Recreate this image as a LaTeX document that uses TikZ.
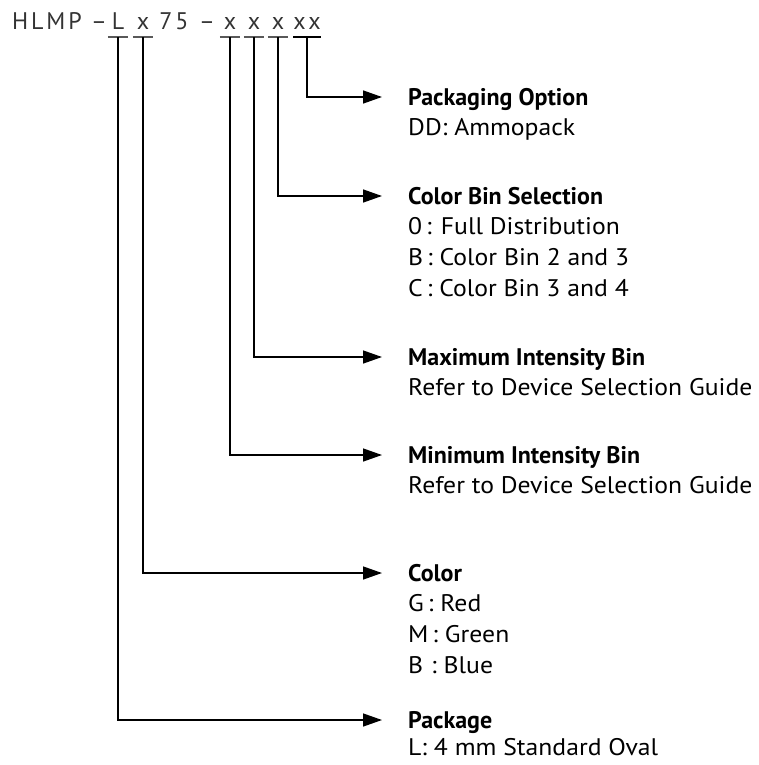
\documentclass[tikz,border=0pt]{standalone}
\usepackage{fontspec}
\setmainfont{PT Sans}
\newfontfamily\headfont{PT Sans Bold}
\newfontfamily\descfont[FakeStretch=1.07]{PT Sans}
\newfontfamily\titlefont[LetterSpace=12]{PT Sans}
\usepackage{tikz}
\usetikzlibrary{arrows.meta,positioning}

\begin{document}
\begin{tikzpicture}[x=1pt,y=-1pt,>={Triangle[length=19pt,width=13pt]}]
    \tikzset{code/.style={inner sep=0, anchor=base, minimum width=20pt, text depth=7pt, font=\titlefont\fontsize{24}{28}\selectfont, text=black!80},
    head/.style={inner sep=0, anchor=west, text height=16.6pt, text depth=0pt, font=\headfont\fontsize{24}{28}\selectfont},
    desc/.style={inner sep=0, anchor=north west, align=left, font=\descfont\fontsize{24}{31}\selectfont},
    uline/.style={line width=1.8pt, black!65},
    elbow/.style={to path={|- (\tikztotarget)}},
    }
    \useasboundingbox (0,0) rectangle (758,765);
    % part number
    \node [code, anchor=base west, minimum width=0pt] (hlmp) at (12,30) {HLMP –};
    \node [code] (cpkg) at (118,30) {L};
    \node [code] (ccol) at (143,30) {x};
    \node [code, minimum width=0pt] (cnum) at (174,30) {75};
    \node [code, minimum width=0pt] (cdash) at (207,30) {–};
    \node [code] (cmin) at (230,30) {x};
    \node [code] (cmax) at (254,30) {x};
    \node [code] (cbin) at (278,30) {x};
    \node [code, minimum width=25pt] (copt) at (307,30) {xx};
    % headings
    \node [head] (hopt) at (408,97) {Packaging Option};
    \node [head] (hbin) at (408,196) {Color Bin Selection};
    \node [head] (hmax) at (408,357) {Maximum Intensity Bin};
    \node [head] (hmin) at (408,455) {Minimum Intensity Bin};
    \node [head] (hcol) at (408,573) {Color};
    \node [head] (hpkg) at (408,720) {Package};
    % descriptions
    \node [desc, below=13pt of hopt.south west, anchor=north west] (dopt) {DD: Ammopack};
    \node [desc, below=13pt of hbin.south west, anchor=north west] (dbin) {0\,: Full Distribution\\B\,: Color Bin 2 and 3\\C\,: Color Bin 3 and 4};
    \node [desc, below=13pt of hmax.south west, anchor=north west] (dmax) {Refer to Device Selection Guide};
    \node [desc, below=13pt of hmin.south west, anchor=north west] (dmin) {Refer to Device Selection Guide};
    \node [desc, below=13pt of hcol.south west, anchor=north west] (dcol) {G\,: Red\\M\,: Green\\B\,\,: Blue};
    \node [desc, below=10pt of hpkg.south west, anchor=north west] (dpkg) {L: 4 mm Standard Oval};

% underlines
    \foreach \c in {cpkg,ccol,cmin,cmax,cbin}
        \draw [uline] (\c.south west) -- (\c.south east);
    \draw [uline, black] (copt.south west) -- (copt.south east);

% paths
    \path[->, line width=1.4pt, every edge/.style={draw, elbow}]
                (copt.south) edge ([xshift=-26pt]hopt.west)
                (cbin.south) edge ([xshift=-26pt]hbin.west)
                (cmax.south) edge ([xshift=-26pt]hmax.west)
                (cmin.south) edge ([xshift=-26pt]hmin.west)
                (ccol.south) edge ([xshift=-26pt]hcol.west)
                (cpkg.south) edge ([xshift=-26pt]hpkg.west)
                ;
\end{tikzpicture}
\end{document}
